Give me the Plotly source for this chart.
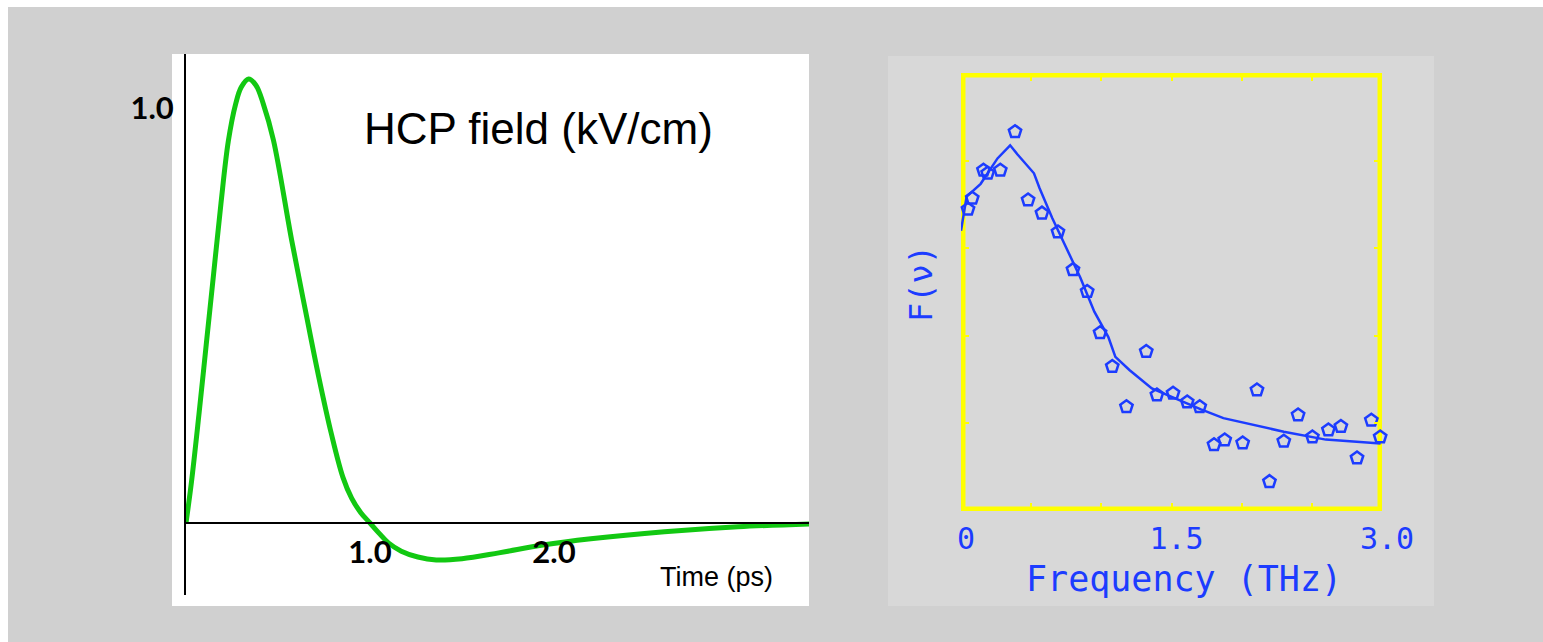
import plotly.graph_objects as go

W, H = 1543, 642

# ---- left panel: HCP field waveform (kV/cm) vs time (ps)
time_ps = [0.0, 0.03, 0.07, 0.11, 0.15, 0.19, 0.23, 0.27, 0.30, 0.34, 0.38, 0.42,
           0.475, 0.574, 0.65, 0.72, 0.79, 0.853, 0.90, 0.95, 1.00, 1.05, 1.10,
           1.17, 1.26, 1.36, 1.50, 1.70, 1.94, 2.20, 2.60, 3.00, 3.40]
field_kv = [0.0, 0.10, 0.26, 0.43, 0.60, 0.77, 0.92, 1.01, 1.05, 1.07, 1.055, 1.01,
            0.923, 0.682, 0.51, 0.355, 0.215, 0.110, 0.060, 0.025, 0.0, -0.025,
            -0.048, -0.068, -0.082, -0.089, -0.086, -0.072, -0.053, -0.038, -0.021,
            -0.009, -0.002]
time_ticks = [1.0, 2.0]
time_tick_text = ["1.0", "2.0"]
field_ticks = [1.0]
field_tick_text = ["1.0"]

# ---- right panel: spectrum F(nu) vs frequency (THz)
freq_pts = [0.05, 0.08, 0.16, 0.19, 0.28, 0.385, 0.478, 0.577, 0.691, 0.798, 0.899,
            0.991, 1.078, 1.179, 1.320, 1.396, 1.511, 1.612, 1.701, 1.803, 1.879,
            2.007, 2.109, 2.198, 2.300, 2.402, 2.504, 2.618, 2.707, 2.822, 2.924,
            2.987]
amp_pts = [0.689, 0.714, 0.778, 0.771, 0.778, 0.866, 0.710, 0.680, 0.637, 0.551,
           0.501, 0.407, 0.330, 0.238, 0.364, 0.265, 0.269, 0.249, 0.238, 0.151,
           0.162, 0.155, 0.276, 0.067, 0.159, 0.219, 0.169, 0.185, 0.193, 0.121,
           0.207, 0.169]
fit_freq = [0.0, 0.04, 0.14, 0.26, 0.35, 0.40, 0.52, 0.56, 0.65, 0.76, 0.85, 0.95,
            1.05, 1.10, 1.20, 1.36, 1.71, 1.87, 2.12, 2.30, 2.60, 2.99]
fit_amp = [0.640, 0.718, 0.747, 0.805, 0.835, 0.815, 0.771, 0.737, 0.669, 0.592,
           0.533, 0.455, 0.397, 0.352, 0.322, 0.280, 0.232, 0.212, 0.193, 0.181,
           0.163, 0.154]
freq_ticks = [0, 0.5, 1.0, 1.5, 2.0, 2.5, 3.0]
freq_tick_text = ["0", "", "", "1.5", "", "", "3.0"]
amp_ticks = [0.2, 0.4, 0.6, 0.8]

GREEN = "#12c812"
BLUE = "#1c3cff"
YELLOW = "#ffff00"


def fx(p):
    return p / W


def fy(p):
    return 1 - p / H


fig = go.Figure()

fig.add_trace(go.Scatter(
    x=time_ps, y=field_kv, mode="lines", line=dict(color=GREEN, width=5, shape="spline"),
    xaxis="x", yaxis="y", cliponaxis=False, showlegend=False))

fig.add_trace(go.Scatter(
    x=fit_freq, y=fit_amp, mode="lines", line=dict(color=BLUE, width=2.5),
    xaxis="x2", yaxis="y2", cliponaxis=False, showlegend=False))
fig.add_trace(go.Scatter(
    x=freq_pts, y=amp_pts, mode="markers",
    marker=dict(symbol="pentagon-open", size=13, color=BLUE, line=dict(width=2.5, color=BLUE)),
    xaxis="x2", yaxis="y2", cliponaxis=False, showlegend=False))

# left axes: time zero line at y=0 (pixel 523), y axis at x=0 (pixel 186)
y0_px, y_unit = 523, 415
x0_px, x_unit = 186, 184
left_top, left_bot, left_right = 54, 595, 809

bold_tick = dict(family="Lato", size=31, color="black", weight="bold")

fig.update_layout(
    width=W, height=H,
    margin=dict(l=0, r=0, t=0, b=0, autoexpand=False),
    paper_bgcolor="white", plot_bgcolor="rgba(0,0,0,0)",
    xaxis=dict(domain=[fx(x0_px), fx(left_right)],
               range=[0, (left_right - x0_px) / x_unit],
               anchor="free", position=fy(y0_px),
               showline=True, linecolor="black", linewidth=1.5,
               showgrid=False, zeroline=False, ticks="",
               tickvals=time_ticks, ticktext=time_tick_text, tickfont=bold_tick,
               ticklabelstandoff=2),
    yaxis=dict(domain=[fy(left_bot), fy(left_top)],
               range=[-(left_bot - y0_px) / y_unit, (y0_px - left_top) / y_unit],
               anchor="x", showline=True, linecolor="black", linewidth=2,
               showgrid=False, zeroline=False, ticks="",
               tickvals=field_ticks, ticktext=field_tick_text, tickfont=bold_tick,
               ticklabelstandoff=4),
    xaxis2=dict(domain=[fx(961), fx(1382)], range=[0, 3], anchor="y2",
                showline=False, showgrid=False, zeroline=False,
                ticks="inside", ticklen=8, tickwidth=2, tickcolor=YELLOW, mirror="ticks",
                tickvals=freq_ticks, ticktext=freq_tick_text,
                tickfont=dict(family="DejaVu Sans Mono", size=30, color=BLUE),
                ticklabelstandoff=7, ticklabelshift=5),
    yaxis2=dict(domain=[fy(511), fy(73)], range=[0, 1], anchor="x2",
                showline=False, showgrid=False, zeroline=False,
                ticks="inside", ticklen=8, tickwidth=2, tickcolor=YELLOW, mirror="ticks",
                tickvals=amp_ticks, showticklabels=False),
    shapes=[
        dict(type="rect", xref="paper", yref="paper", x0=fx(8), x1=1, y0=0, y1=fy(7),
             fillcolor="#d0d0d0", line=dict(width=0), layer="below"),
        dict(type="rect", xref="paper", yref="paper", x0=fx(172), x1=fx(809),
             y0=fy(606), y1=fy(54), fillcolor="white", line=dict(width=0), layer="below"),
        dict(type="rect", xref="paper", yref="paper", x0=fx(888), x1=fx(1434),
             y0=fy(606), y1=fy(56), fillcolor="#d8d8d8", line=dict(width=0), layer="below"),
        dict(type="rect", xref="x2", yref="y2", x0=0, x1=3, y0=0, y1=1,
             fillcolor="rgba(0,0,0,0)", line=dict(color=YELLOW, width=9), layer="below"),
    ],
    annotations=[
        dict(text="HCP field (kV/cm)", xref="paper", yref="paper", x=fx(538), y=fy(128),
             xanchor="center", yanchor="middle", showarrow=False,
             font=dict(family="Liberation Sans", size=44, color="black")),
        dict(text="Time (ps)", xref="paper", yref="paper", x=fx(716), y=fy(577),
             xanchor="center", yanchor="middle", showarrow=False,
             font=dict(family="Liberation Sans", size=27, color="black")),
        dict(text="Frequency (THz)", xref="paper", yref="paper", x=fx(1184), y=fy(579),
             xanchor="center", yanchor="middle", showarrow=False,
             font=dict(family="DejaVu Sans Mono", size=35, color=BLUE)),
        dict(text="F(ν)", xref="paper", yref="paper", x=fx(921), y=fy(284),
             xanchor="center", yanchor="middle", showarrow=False, textangle=-90,
             font=dict(family="DejaVu Sans Mono", size=32, color=BLUE)),
    ],
)

fig.write_html("out.html", config={"displayModeBar": False})
